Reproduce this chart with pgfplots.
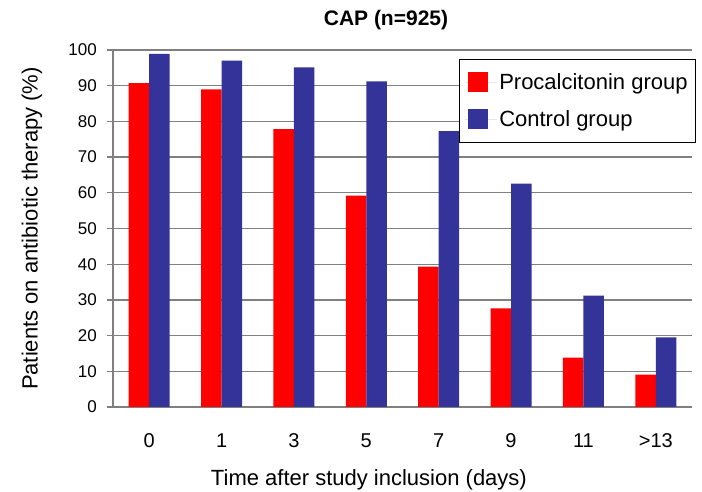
\documentclass[border=0pt]{standalone}
\usepackage{pgfplots}
\pgfplotsset{compat=1.18}
\usepackage{fontspec}
\setmainfont{Liberation Sans}
\definecolor{pctred}{RGB}{255,0,0}
\definecolor{ctrlblue}{RGB}{51,51,153}
\definecolor{gridgray}{RGB}{128,128,128}
\begin{document}
\begin{tikzpicture}
\path[use as bounding box] (0,0) rectangle (702pt,492pt);
\node[anchor=base, font=\bfseries\fontsize{21}{25}\selectfont] at (386pt,466pt) {CAP (n=925)};
\begin{axis}[
  at={(113pt,85pt)}, anchor=south west,
  scale only axis, width=579pt, height=357pt,
  ybar=0pt, bar width=20.5pt,
  xmin=-0.5, xmax=7.5, ymin=0, ymax=100,
  xtick={0,1,2,3,4,5,6,7},
  xticklabels={0,1,3,5,7,9,11,{>13}},
  ytick={0,10,...,100},
  axis lines*=left,
  axis line style={gridgray, line width=1.3pt},
  ymajorgrids,
  major grid style={gridgray, line width=1.3pt},
  tick align=outside, major tick length=6pt,
  ytick style={gridgray, line width=1.3pt},
  xtick style={draw=none},
  /pgf/number format/assume math mode=true,
  yticklabel style={font=\fontsize{17}{20}\selectfont, anchor=east, inner sep=0pt, xshift=-10pt},
  xticklabel style={font=\fontsize{20}{24}\selectfont, anchor=center, inner sep=0pt, yshift=-28pt},
  xlabel={Time after study inclusion (days)},
  ylabel={Patients on antibiotic therapy (\%)},
  xlabel style={at={(axis description cs:0.442,-0.2045)}, anchor=center, font=\fontsize{22}{26}\selectfont},
  ylabel style={at={(axis description cs:-0.140,0.5)}, anchor=center, font=\fontsize{22}{26}\selectfont},
  legend style={at={(1.0069,0.975)}, anchor=north east, draw=black, line width=0.8pt, fill=white,
    font=\fontsize{22}{26}\selectfont, row sep=16pt, inner xsep=6pt, inner ysep=12pt},
  legend cell align=left,
  legend image code/.code={\path (0pt,0pt) rectangle (32pt,0pt); \fill[#1] (3pt,-10pt) rectangle (23pt,10pt);},
]
\addplot[fill=pctred, draw=none] coordinates {(0,90.7) (1,89.0) (2,77.8) (3,59.2) (4,39.3) (5,27.6) (6,13.8) (7,9.1)};
\addplot[fill=ctrlblue, draw=none] coordinates {(0,98.9) (1,97.0) (2,95.1) (3,91.2) (4,77.3) (5,62.6) (6,31.2) (7,19.5)};
\legend{Procalcitonin group, Control group}
\end{axis}
\end{tikzpicture}
\end{document}
